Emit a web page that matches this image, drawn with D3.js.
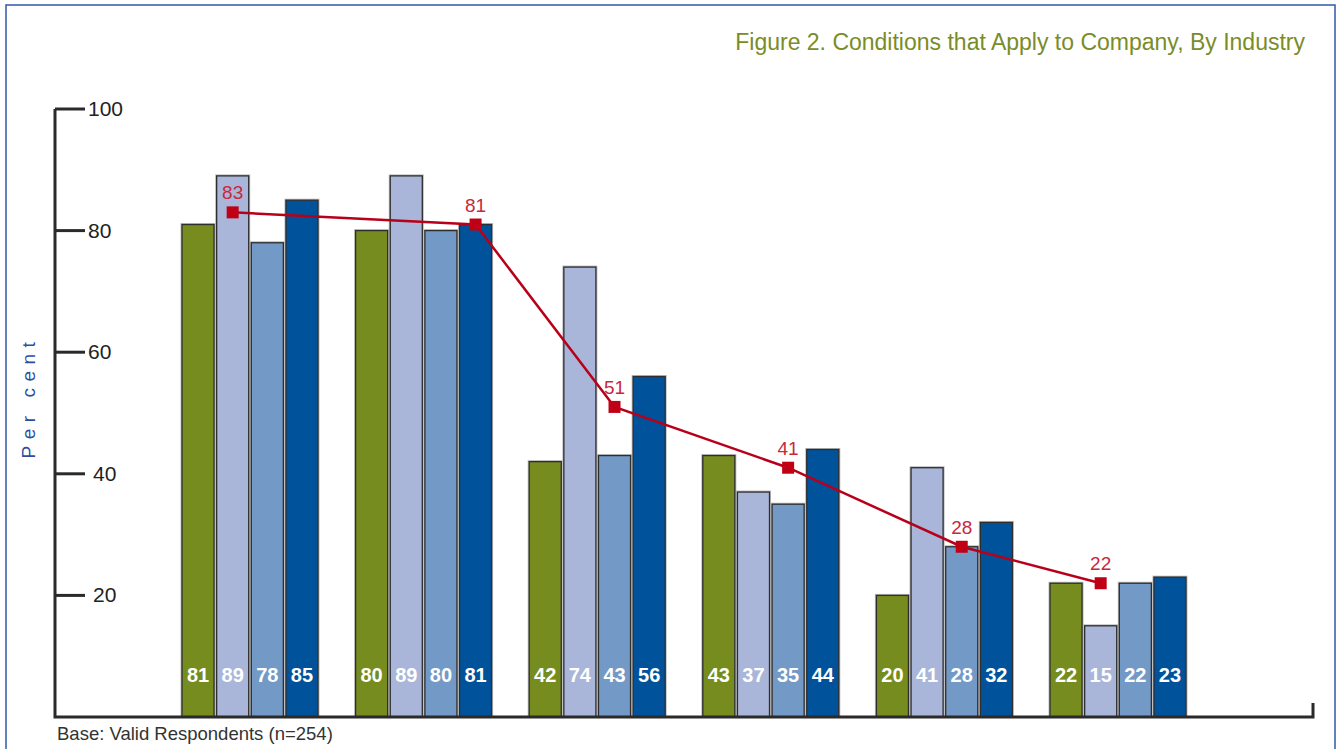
<!DOCTYPE html>
<html>
<head>
<meta charset="utf-8">
<title>Figure 2</title>
<style>
body { margin: 0; background: #fff; }
svg text { font-family: "Liberation Sans", Arial, sans-serif; }
</style>
</head>
<body>
<script src="https://cdnjs.cloudflare.com/ajax/libs/d3/7.8.5/d3.min.js"></script>
<script>
// dane
var groups = ["g1", "g2", "g3", "g4", "g5", "g6"];
var series = ["s1", "s2", "s3", "s4"];
var values = [
  [81, 89, 78, 85],
  [80, 89, 80, 81],
  [42, 74, 43, 56],
  [43, 37, 35, 44],
  [20, 41, 28, 32],
  [22, 15, 22, 23]
];
var totals = [83, 81, 51, 41, 28, 22];
// nad ktorym slupkiem stoi punkt linii
var totalsOver = ["s2", "s4", "s3", "s3", "s3", "s2"];
var yTicks = [20, 40, 60, 80, 100];

var width = 1336, height = 749;
var colors = ["#778c1e", "#a9b6d9", "#7399c6", "#00529b"];

var svg = d3.select("body").append("svg")
  .attr("width", width)
  .attr("height", height);

// ramka
svg.append("rect")
  .attr("x", 6).attr("y", 5)
  .attr("width", 1329).attr("height", 760)
  .attr("fill", "none")
  .attr("stroke", "#2f58a8")
  .attr("stroke-width", 1.5);

var y = d3.scaleLinear().domain([0, 100]).range([717, 109]);
var x0 = d3.scaleBand().domain(groups).range([182, 1186]).paddingInner(0.2166).paddingOuter(0);
var x1 = d3.scaleBand().domain(series).range([0, x0.bandwidth()]).paddingInner(0.075);

// tytul
svg.append("text")
  .attr("x", 1305).attr("y", 50)
  .attr("text-anchor", "end")
  .attr("fill", "#7a8c28")
  .style("font-size", "23px")
  .style("font-weight", 300)
  .text("Figure 2. Conditions that Apply to Company, By Industry");

// slupki
var g = svg.selectAll("g.grp")
  .data(values)
  .enter()
  .append("g")
  .attr("class", "grp")
  .attr("transform", function(d, i) { return "translate(" + x0(groups[i]) + ",0)"; });

g.selectAll("rect.halo")
  .data(function(d) { return d; })
  .enter()
  .append("rect")
  .attr("x", function(d, i) { return x1(series[i]) - 1.5; })
  .attr("y", function(d) { return y(d) - 1.5; })
  .attr("width", x1.bandwidth() + 3)
  .attr("height", function(d) { return y(0) - y(d) + 1.5; })
  .attr("fill", "#bbb");

g.selectAll("rect.bar")
  .data(function(d) { return d; })
  .enter()
  .append("rect")
  .attr("class", "bar")
  .attr("x", function(d, i) { return x1(series[i]); })
  .attr("y", function(d) { return y(d); })
  .attr("width", x1.bandwidth())
  .attr("height", function(d) { return y(0) - y(d); })
  .attr("fill", function(d, i) { return colors[i]; })
  .attr("stroke", "#2e2e2e")
  .attr("stroke-width", 1.3);

g.selectAll("text.val")
  .data(function(d) { return d; })
  .enter()
  .append("text")
  .attr("x", function(d, i) { return x1(series[i]) + x1.bandwidth() / 2; })
  .attr("y", 682)
  .attr("text-anchor", "middle")
  .attr("fill", "#fff")
  .style("font-size", "20px")
  .style("font-weight", "bold")
  .text(function(d) { return d; });

// osie
svg.append("path")
  .attr("d", "M55,109 V717 H1313 V703")
  .attr("fill", "none")
  .attr("stroke", "#2a2a2a")
  .attr("stroke-width", 3);

svg.selectAll("line.tick")
  .data(yTicks)
  .enter()
  .append("line")
  .attr("x1", 55).attr("x2", 85)
  .attr("y1", function(d) { return y(d); })
  .attr("y2", function(d) { return y(d); })
  .attr("stroke", "#2a2a2a")
  .attr("stroke-width", 3);

svg.selectAll("text.tick")
  .data(yTicks)
  .enter()
  .append("text")
  .attr("x", function(d) { return d < 60 ? 93 : 88; })
  .attr("y", function(d) { return y(d) + 7; })
  .attr("fill", "#222")
  .style("font-size", "21px")
  .text(function(d) { return d; });

svg.append("text")
  .attr("transform", "translate(35,397) rotate(-90)")
  .attr("text-anchor", "middle")
  .attr("fill", "#2a4fa0")
  .style("font-size", "19px")
  .style("letter-spacing", "6.5px")
  .text("Per cent");

// linia
function lx(d, i) { return x0(groups[i]) + x1(totalsOver[i]) + x1.bandwidth() / 2; }

var line = d3.line()
  .x(lx)
  .y(function(d) { return y(d); });

svg.append("path")
  .attr("d", line(totals))
  .attr("fill", "none")
  .attr("stroke", "#b8001a")
  .attr("stroke-width", 2.5);

svg.selectAll("rect.mark")
  .data(totals)
  .enter()
  .append("rect")
  .attr("x", function(d, i) { return lx(d, i) - 6; })
  .attr("y", function(d) { return y(d) - 6; })
  .attr("width", 12).attr("height", 12)
  .attr("fill", "#c00014");

svg.selectAll("text.mark")
  .data(totals)
  .enter()
  .append("text")
  .attr("x", function(d, i) { return lx(d, i); })
  .attr("y", function(d) { return y(d) - 13; })
  .attr("text-anchor", "middle")
  .attr("fill", "#c8283a")
  .style("font-size", "19px")
  .text(function(d) { return d; });

svg.append("text")
  .attr("x", 57).attr("y", 740)
  .attr("fill", "#333")
  .style("font-size", "18.5px")
  .text("Base: Valid Respondents (n=254)");
</script>
</body>
</html>
